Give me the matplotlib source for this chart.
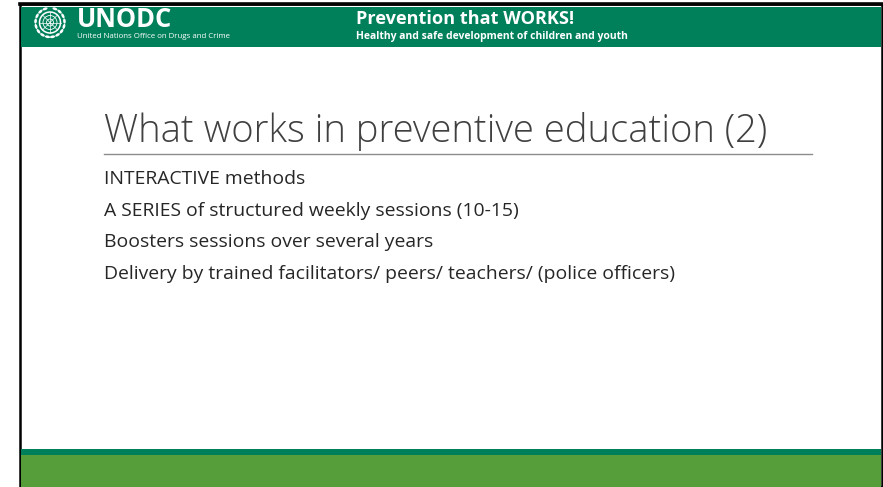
"""Slide: What works in preventive education (2)."""

import matplotlib as mpl
import numpy as np

mpl.use("Agg")
import matplotlib.pyplot as plt
from matplotlib.patches import Circle, Ellipse, Rectangle

W, H = 883, 487

HEADER_GREEN = "#00805a"
FOOTER_GREEN = "#559e39"
TEXT_DARK = "#262626"
TITLE_GREY = "#404040"

org_name = "UNODC"
org_full = "United Nations Office on Drugs and Crime"
banner_title = "Prevention that WORKS!"
banner_sub = "Healthy and safe development of children and youth"
slide_title = "What works in preventive education (2)"
bullets = [
    "INTERACTIVE methods",
    "A SERIES of structured weekly sessions (10-15)",
    "Boosters sessions over several years",
    "Delivery by trained facilitators/ peers/ teachers/ (police officers)",
]

fig = plt.figure(figsize=(W / 100, H / 100), dpi=100)
ax = fig.add_axes([0, 0, 1, 1])
ax.set_xlim(0, W)
ax.set_ylim(H, 0)
ax.axis("off")
renderer = fig.canvas.get_renderer()


def fit_text(x, y, s, x_end, **kw):
    """Place text at (x, y) and scale its size so it ends at x_end (pixels)."""
    t = ax.text(x, y, s, fontsize=10, va="baseline", **kw)
    width = t.get_window_extent(renderer).width
    t.set_fontsize(10 * (x_end - x) / width)
    return t


# slide frame
ax.add_patch(Rectangle((20, 4), 862, 483, facecolor="white", edgecolor="black", lw=1.8))
ax.plot([20, 882], [4, 4], color="black", lw=2.6)

# header band
ax.add_patch(Rectangle((21, 6.5), 860, 40.5, facecolor=HEADER_GREEN, edgecolor="none"))

# emblem (simplified UN globe with laurel)
cx, cy = 50, 22.5
ax.add_patch(Circle((cx, cy), 10.5, fill=False, ec="white", lw=1.1))
ax.add_patch(Circle((cx, cy), 7, fill=False, ec="white", lw=0.6))
ax.add_patch(Circle((cx, cy), 3.5, fill=False, ec="white", lw=0.6))
for ang in np.linspace(0, np.pi, 4, endpoint=False):
    ax.plot([cx - 10.5 * np.cos(ang), cx + 10.5 * np.cos(ang)],
            [cy - 10.5 * np.sin(ang), cy + 10.5 * np.sin(ang)], color="white", lw=0.5)
for side in (-1, 1):
    for a in np.linspace(-70, 80, 8):
        r = np.deg2rad(a)
        ex = cx + side * 14.5 * np.cos(r)
        ey = cy + 14.5 * np.sin(r)
        ax.add_patch(Ellipse((ex, ey), 2.6, 5.2, angle=side * a, fc="white", ec="none"))

fit_text(77, 27, org_name, 172, color="white", fontweight="bold", family="Open Sans")
fit_text(77, 38, org_full, 232, color="white", family="Open Sans")

fit_text(356, 24.5, banner_title, 575, color="white", fontweight="bold", family="Open Sans")
fit_text(356, 38.5, banner_sub, 628, color="white", fontweight="bold", family="Open Sans")

# title and rule
fit_text(104, 142, slide_title, 768, color=TITLE_GREY, fontweight="light", family="Open Sans")
ax.plot([104, 812], [154, 154], color="#8c8c8c", lw=1.0)

longest = max(bullets, key=len)
probe = fit_text(104, 184, longest, 677, color=TEXT_DARK, family="Open Sans")
body_size = probe.get_fontsize()
probe.remove()
for i, line in enumerate(bullets):
    ax.text(104, 184 + i * 31.7, line, color=TEXT_DARK, fontsize=body_size,
            family="Open Sans", va="baseline")

# footer bands
ax.add_patch(Rectangle((21, 449), 860, 6, facecolor=HEADER_GREEN, edgecolor="none"))
ax.add_patch(Rectangle((21, 455), 860, 32, facecolor=FOOTER_GREEN, edgecolor="none"))

fig.savefig("out.png", dpi=100)
